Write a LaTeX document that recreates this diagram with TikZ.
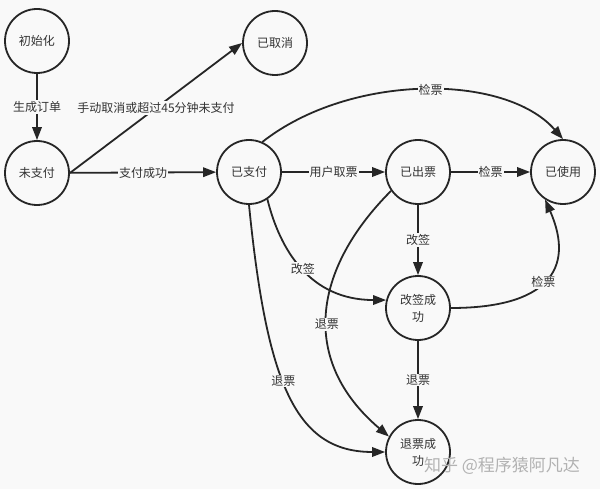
\documentclass[tikz,border=0pt]{standalone}
\usepackage{fontspec}
\setmainfont{Noto Sans CJK SC}
\usetikzlibrary{arrows.meta}
\definecolor{bg}{RGB}{249,249,249}
\definecolor{ink}{RGB}{38,38,38}
\definecolor{txt}{RGB}{51,51,51}
\begin{document}
\begin{tikzpicture}[x=1pt,y=-1pt,
  state/.style={circle,draw=ink,line width=1.8pt,fill=bg,minimum size=64pt,inner sep=0pt,text=txt,font=\fontsize{12}{17}\selectfont,align=center},
  conn/.style={draw=ink,line width=1.8pt,-{Triangle[length=13pt,width=9.5pt]}},
  lbl/.style={fill=bg,inner sep=1pt,text=txt,font=\fontsize{12}{14}\selectfont}]
\fill[bg] (0,0) rectangle (600,489);
\useasboundingbox (0,0) rectangle (600,489);

\node[state] (init) at (37,41) {初始化};
\node[state] (cancel) at (275,43) {已取消};
\node[state] (unpaid) at (37,173) {未支付};
\node[state] (paid) at (249,172) {已支付};
\node[state] (issued) at (418,172) {已出票};
\node[state] (used) at (563,172) {已使用};
\node[state] (changed) at (418,308) {改签成\\功};
\node[state] (refund) at (418,452) {退票成\\功};

\draw[conn] (init) -- node[lbl] {生成订单} (unpaid);
\draw[conn] (unpaid.east) -- node[lbl,pos=0.5] {手动取消或超过45分钟未支付} (cancel.west);
\draw[conn] (unpaid) -- node[lbl] {支付成功} (paid);
\draw[conn] (paid) -- node[lbl] {用户取票} (issued);
\draw[conn] (issued) -- node[lbl] {检票} (used);
\draw[conn] (paid.66) .. controls (350,73) and (505,73) .. node[lbl,pos=0.52] {检票} (used.north);
\draw[conn] (issued) -- node[lbl] {改签} (changed);
\draw[conn] (paid.-56) .. controls (280,250) and (310,300) .. node[lbl,pos=0.5] {改签} (changed.166);
\draw[conn] (issued.215.5) .. controls (313,269) and (299,360) .. node[lbl,pos=0.54] {退票} (refund.152);
\draw[conn] (paid.south) .. controls (267,385) and (296,452) .. node[lbl,pos=0.44] {退票} (refund.west);
\draw[conn] (changed) -- node[lbl] {退票} (refund);
\draw[conn] (changed.east) .. controls (546,308) and (576,270) .. node[lbl,pos=0.48] {检票} (used.237.3);

\node[text=black!30,font=\fontsize{17}{20}\selectfont,anchor=center] (mark) at (502,466) {知乎 @程序猿阿凡达};
\end{tikzpicture}
\end{document}
